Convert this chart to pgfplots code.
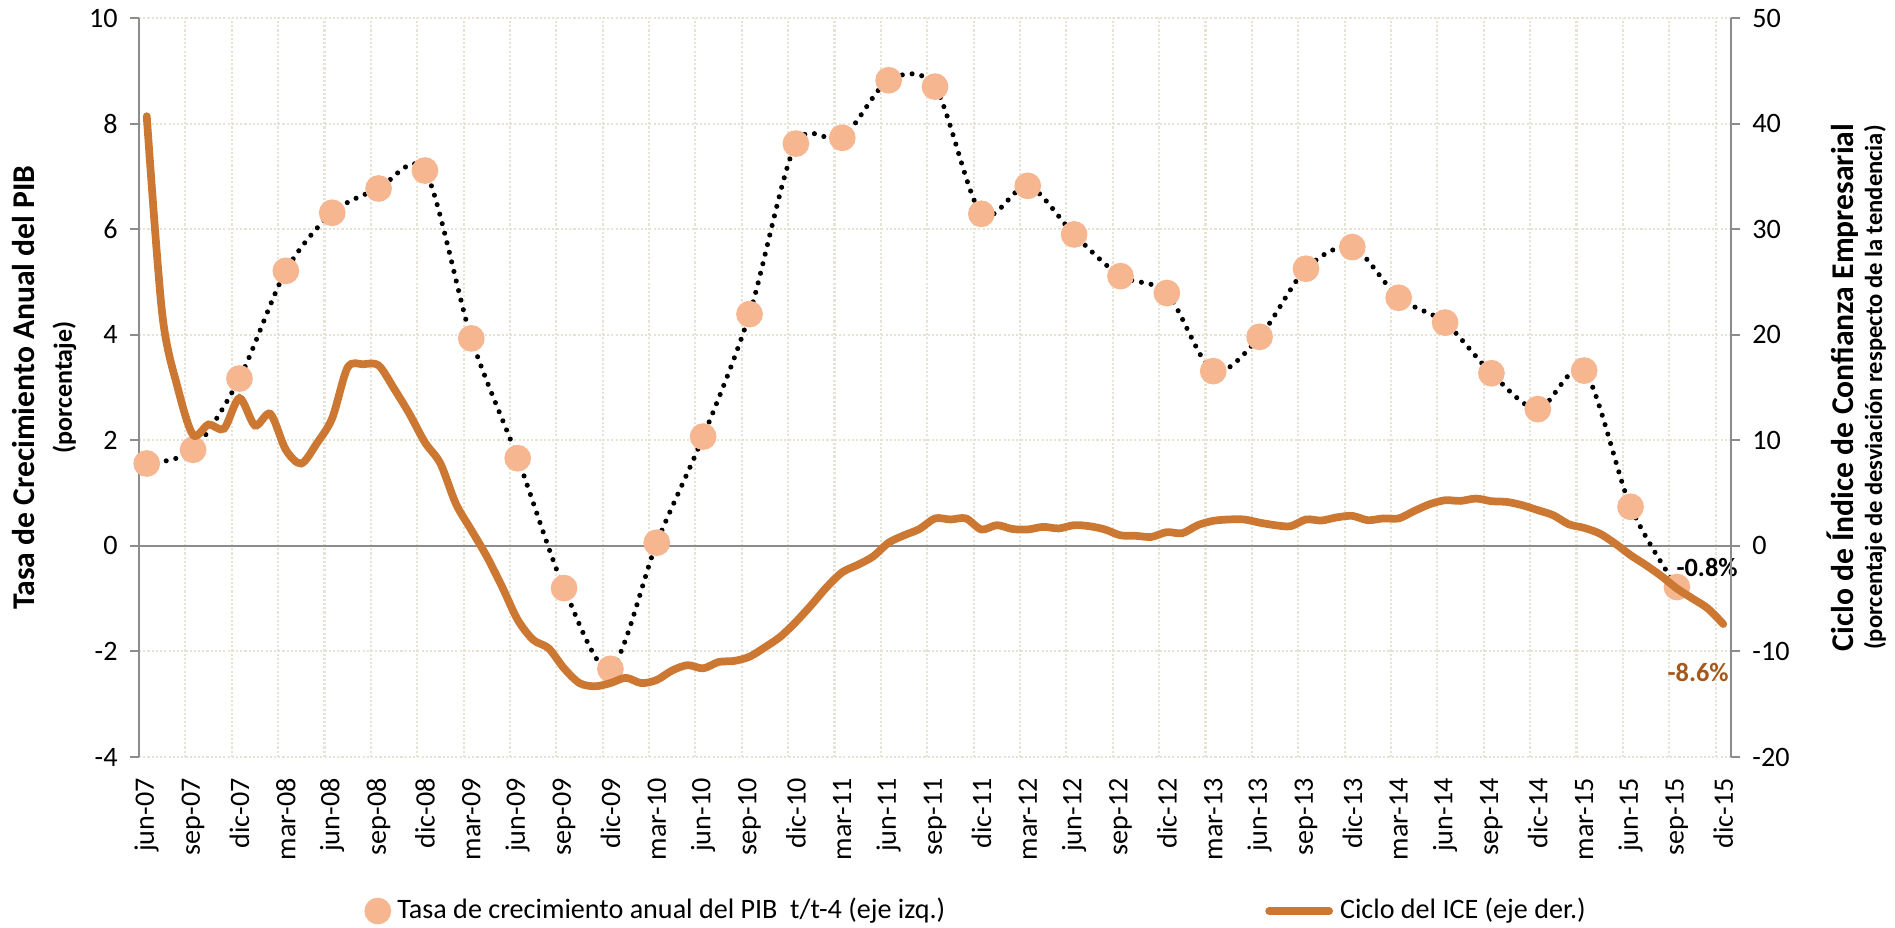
\documentclass[border=0pt]{standalone}
\usepackage{fontspec}
\setmainfont{Carlito}
\usepackage{pgfplots}
\usepackage{pgfplotstable}
\pgfplotsset{compat=1.18}
\definecolor{peach}{HTML}{F5B690}
\definecolor{iceorange}{HTML}{CC7832}
\definecolor{labelbrown}{HTML}{A6581A}
\definecolor{axisgray}{HTML}{8C8C8C}
\definecolor{gridbeige}{HTML}{E6E3D4}

% PIB t/t-4, trimestral (m = meses desde jun-07)
\pgfplotstableread{
m v
0 1.56
3 1.82
6 3.17
9 5.21
12 6.31
15 6.77
18 7.11
21 3.93
24 1.66
27 -0.80
30 -2.33
33 0.06
36 2.07
39 4.39
42 7.62
45 7.73
48 8.82
51 8.70
54 6.29
57 6.82
60 5.90
63 5.11
66 4.79
69 3.31
72 3.96
75 5.25
78 5.66
81 4.70
84 4.23
87 3.27
90 2.59
93 3.32
96 0.74
99 -0.78
}\pib

% Ciclo del ICE, mensual
\pgfplotstableread{
m v
0 40.7
1 22.0
2 15.0
3 10.5
4 11.5
5 11.1
6 14.0
7 11.4
8 12.5
9 9.1
10 7.8
11 9.7
12 12.1
13 16.9
14 17.2
15 17.1
16 14.9
17 12.5
18 9.8
19 7.8
20 4.0
21 1.5
22 -1.0
23 -3.9
24 -7.0
25 -8.9
26 -9.7
27 -11.6
28 -13.0
29 -13.3
30 -13.0
31 -12.5
32 -13.0
33 -12.7
34 -11.8
35 -11.3
36 -11.6
37 -11.0
38 -10.9
39 -10.5
40 -9.6
41 -8.6
42 -7.2
43 -5.6
44 -3.9
45 -2.5
46 -1.8
47 -1.0
48 0.3
49 1.0
50 1.6
51 2.6
52 2.5
53 2.6
54 1.55
55 1.96
56 1.6
57 1.55
58 1.8
59 1.65
60 1.96
61 1.86
62 1.55
63 1.0
64 0.95
65 0.85
66 1.3
67 1.2
68 1.96
69 2.37
70 2.5
71 2.5
72 2.2
73 1.96
74 1.86
75 2.5
76 2.4
77 2.7
78 2.84
79 2.43
80 2.6
81 2.6
82 3.3
83 3.94
84 4.32
85 4.26
86 4.48
87 4.23
88 4.16
89 3.85
90 3.38
91 2.9
92 2.05
93 1.7
94 1.17
95 0.22
96 -0.88
97 -1.83
98 -2.87
99 -4.04
100 -4.98
101 -5.93
102 -7.41
}\ice

\begin{document}
\begin{tikzpicture}
\pgfplotsset{
  every axis/.append style={
    width=15.92cm, height=7.39cm, scale only axis,
    xmin=-0.5, xmax=102.5, clip=false,
    tick align=outside, major tick length=0.09cm,
    tick label style={font=\fontsize{8}{9.6}\selectfont},
    /pgf/number format/assume math mode=true,
    y axis line style={draw=axisgray, line width=0.6pt},
    ytick style={draw=axisgray, line width=0.6pt},
  },
}
\begin{axis}[
  axis y line*=left, axis x line*=bottom,
  x axis line style={draw=none}, xtick style={draw=none}, minor x tick style={draw=none},
  ymin=-4, ymax=10, ytick={-4,-2,...,10},
  xtick={0,3,...,102},
  xticklabels={jun-07,sep-07,dic-07,mar-08,jun-08,sep-08,dic-08,mar-09,jun-09,sep-09,dic-09,mar-10,jun-10,sep-10,dic-10,mar-11,jun-11,sep-11,dic-11,mar-12,jun-12,sep-12,dic-12,mar-13,jun-13,sep-13,dic-13,mar-14,jun-14,sep-14,dic-14,mar-15,jun-15,sep-15,dic-15},
  xticklabel style={rotate=90, anchor=east},
  minor xtick={2.5,5.5,...,101.5},
  xminorgrids=true, ymajorgrids=true,
  major grid style={draw=gridbeige, line width=0.6pt, dash pattern=on 0.6pt off 0.6pt},
  minor grid style={draw=gridbeige, line width=0.6pt, dash pattern=on 0.6pt off 0.6pt},
]
\coordinate (bl) at (rel axis cs:0,0);
\coordinate (tr) at (rel axis cs:1,1);
\draw[axisgray, line width=0.7pt] (axis cs:-0.5,0) -- (axis cs:102.5,0);
\addplot[only marks, mark=*, mark size=3.6pt, color=peach] table[x=m, y=v] {\pib};
\addplot[smooth, black, line width=1.45pt, line cap=round, dash pattern=on 0pt off 2.8pt] table[x=m, y=v] {\pib};
\node[rotate=90, anchor=base, font=\fontsize{9}{11}\selectfont\bfseries] at ([xshift=-1.04cm]rel axis cs:0,0.5) {Tasa de Crecimiento Anual del PIB};
\node[rotate=90, anchor=base, font=\fontsize{7.4}{9}\selectfont\bfseries] at ([xshift=-0.67cm]rel axis cs:0,0.5) {(porcentaje)};
\node[font=\fontsize{7.5}{9}\selectfont\bfseries, inner sep=0pt] at (axis cs:100.95,-0.41) {-0.8\%};
\node[font=\fontsize{7.5}{9}\selectfont\bfseries, inner sep=0pt, text=labelbrown] at (axis cs:100.37,-2.40) {-8.6\%};
\end{axis}
\begin{axis}[
  axis y line*=right, axis x line=none,
  ymin=-20, ymax=50, ytick={-20,-10,...,50},
  legend columns=2,
  legend style={draw=none, fill=none, font=\fontsize{8}{9.6}\selectfont,
    at={(0.135,-0.2084)}, anchor=west,
    /tikz/every even column/.append style={column sep=3.13cm}},
]
\addlegendimage{only marks, mark=*, mark size=3.6pt, color=peach}
\addlegendentry{Tasa de crecimiento anual del PIB\ \ t/t-4 (eje izq.)}
\addplot[smooth, iceorange, line width=2.2pt, line cap=round] table[x=m, y=v] {\ice};
\addlegendentry{Ciclo del ICE (eje der.)}
\node[rotate=90, anchor=base, font=\fontsize{9}{11}\selectfont\bfseries] at ([xshift=1.22cm]rel axis cs:1,0.5) {Ciclo de Índice de Confianza Empresarial};
\node[rotate=90, anchor=base, font=\fontsize{7}{9}\selectfont\bfseries] at ([xshift=1.51cm]rel axis cs:1,0.5) {(porcentaje de desviación respecto de la tendencia)};
\end{axis}
\pgfresetboundingbox
\path ([shift={(-1.39cm,-1.70cm)}]bl) rectangle ([shift={(1.64cm,0.18cm)}]tr);
\end{tikzpicture}
\end{document}
